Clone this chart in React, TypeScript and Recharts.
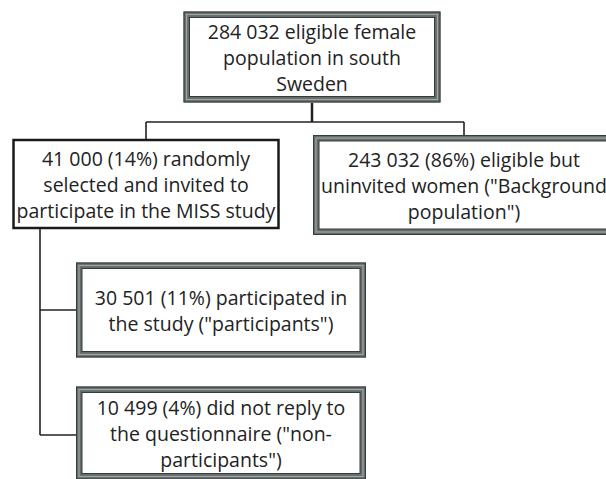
import { ScatterChart, Scatter, XAxis, YAxis, ReferenceLine } from 'recharts'

// flow chart nodes, in the chart's own pixel-like units (x to the right, y downward)
const nodeIds = ['eligible', 'invited', 'background', 'participants', 'nonParticipants']
const nodeX = [312, 146, 464, 221, 221]
const nodeY = [57, 184, 185, 310, 433]
const nodeLines = [
  ['284 032 eligible female', 'population in south', 'Sweden'],
  ['41 000 (14%) randomly', 'selected and invited to', 'participate in the MISS study'],
  ['243 032 (86%) eligible but', 'uninvited women ("Background', 'population")'],
  ['30 501 (11%) participated in', 'the study ("participants")'],
  ['10 499 (4%) did not reply to', 'the questionnaire ("non-', 'participants")'],
]

// connector segments: [x1, y1, x2, y2]
const links = [
  [312, 103, 312, 122],
  [146, 122, 464, 122],
  [146, 122, 146, 139],
  [464, 122, 464, 135],
  [40, 229, 40, 435],
  [40, 310, 76, 310],
  [40, 435, 76, 435],
]

const nodes = nodeIds.map((id, i) => ({ id, x: nodeX[i], y: nodeY[i], lines: nodeLines[i] }))

const boxSize: Record<string, { w: number; h: number; double: boolean }> = {
  eligible: { w: 257, h: 91, double: true },
  invited: { w: 267, h: 90, double: false },
  background: { w: 302, h: 100, double: true },
  participants: { w: 290, h: 95, double: true },
  nonParticipants: { w: 290, h: 93, double: true },
}

const FONT = '"Open Sans", sans-serif'

function NodeBox(props: any) {
  const { cx, cy, payload } = props
  const s = boxSize[payload.id]
  const x = cx - s.w / 2
  const y = cy - s.h / 2
  const lineH = 26
  const firstY = cy - ((payload.lines.length - 1) * lineH) / 2
  return (
    <g>
      {s.double ? (
        <g>
          <rect x={x + 3} y={y + 3} width={s.w - 6} height={s.h - 6} fill="#fff" stroke="#646c6c" strokeWidth={6} />
          <rect x={x + 3} y={y + 3} width={s.w - 6} height={s.h - 6} fill="none" stroke="#a0a6a5" strokeWidth={1.2} />
          <rect x={x + 0.5} y={y + 0.5} width={s.w - 1} height={s.h - 1} fill="none" stroke="#363b3b" strokeWidth={1} />
          <rect x={x + 6} y={y + 6} width={s.w - 12} height={s.h - 12} fill="none" stroke="#363b3b" strokeWidth={1} />
        </g>
      ) : (
        <rect x={x + 1} y={y + 1} width={s.w - 2} height={s.h - 2} fill="#fff" stroke="#1a1a1a" strokeWidth={2.5} />
      )}
      {payload.lines.map((t: string, i: number) => (
        <text
          key={i}
          x={cx}
          y={firstY + i * lineH}
          textAnchor="middle"
          dominantBaseline="central"
          fontFamily={FONT}
          fontSize={19.5}
          fill="#222"
        >
          {t}
        </text>
      ))}
    </g>
  )
}

export default function App() {
  return (
    <div style={{ position: 'absolute', left: 0, top: 0, background: '#fff' }}>
      <ScatterChart width={606} height={479} margin={{ top: 0, right: 0, bottom: 0, left: 0 }}>
        <XAxis type="number" dataKey="x" domain={[0, 606]} hide />
        <YAxis type="number" dataKey="y" domain={[0, 479]} reversed hide width={0} />
        {links.map((l, i) => (
          <ReferenceLine
            key={i}
            segment={[{ x: l[0], y: l[1] }, { x: l[2], y: l[3] }]}
            stroke="#222"
            strokeWidth={i === 0 ? 2.5 : 1.6}
            ifOverflow="visible"
          />
        ))}
        <Scatter data={nodes} shape={NodeBox} isAnimationActive={false} />
      </ScatterChart>
    </div>
  )
}
